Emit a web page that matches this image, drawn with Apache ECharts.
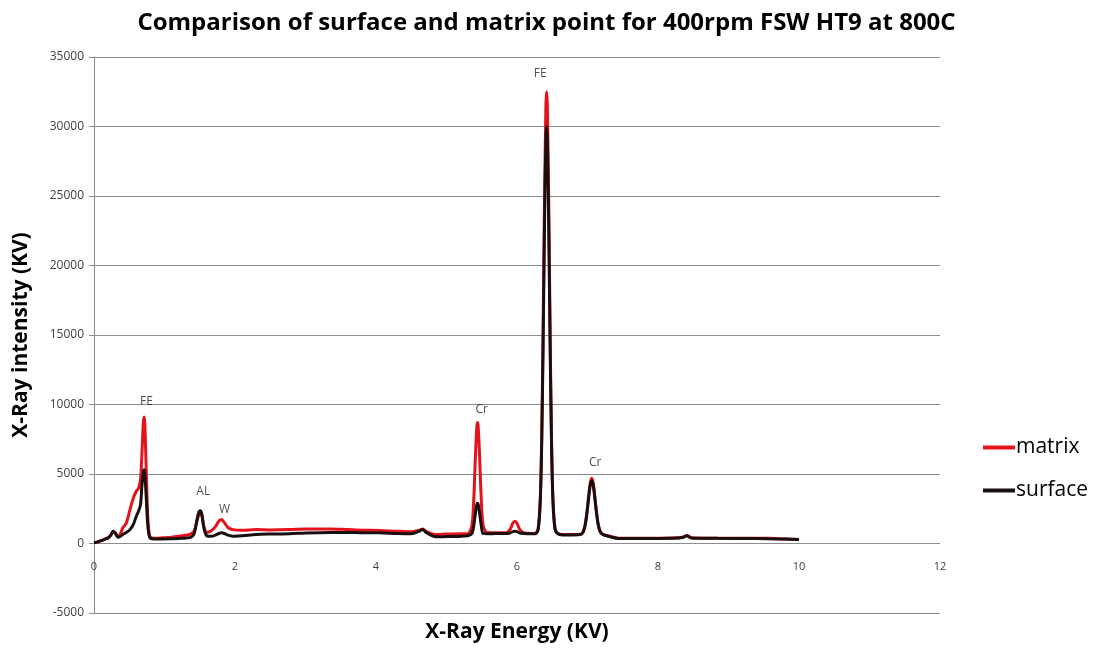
<!DOCTYPE html>
<html>
<head>
<meta charset="utf-8">
<script src="https://cdn.jsdelivr.net/npm/echarts@6/dist/echarts.min.js"></script>
<style>html,body{margin:0;padding:0;background:#fff}#chart{width:1093px;height:648px}</style>
</head>
<body>
<div id="chart"></div>
<script>
const energy = [0.00,0.05,0.10,0.15,0.20,0.24,0.27,0.30,0.34,0.37,0.41,0.46,0.51,0.56,0.60,0.63,0.66,0.68,0.70,0.71,0.72,0.74,0.76,0.78,0.80,0.85,0.95,1.10,1.25,1.36,1.42,1.46,1.49,1.51,1.53,1.56,1.60,1.66,1.72,1.77,1.81,1.85,1.90,1.97,2.10,2.30,2.50,2.77,3.00,3.34,3.60,3.80,4.05,4.30,4.50,4.62,4.66,4.72,4.85,5.00,5.22,5.30,5.36,5.39,5.41,5.43,5.44,5.45,5.47,5.49,5.52,5.58,5.70,5.84,5.90,5.94,5.97,6.00,6.04,6.10,6.20,6.26,6.30,6.33,6.35,6.37,6.39,6.41,6.42,6.43,6.45,6.47,6.49,6.51,6.54,6.58,6.64,6.80,6.90,6.94,6.97,7.00,7.02,7.04,7.06,7.08,7.10,7.12,7.15,7.18,7.22,7.30,7.44,7.80,8.20,8.35,8.41,8.47,8.85,9.20,9.56,9.80,10.00];
const matrix = [60,110,200,300,420,620,850,760,500,650,1130,1500,2440,3300,3760,3950,4600,6500,8700,9100,8700,5500,2200,800,450,380,400,450,550,650,900,1600,2100,2150,2000,1200,800,900,1200,1600,1720,1500,1150,1000,960,1000,980,1000,1040,1050,1000,960,935,880,850,950,1050,850,650,680,700,700,1280,3580,6240,8380,8700,8380,6240,3580,1280,780,770,770,1000,1450,1600,1450,1000,760,720,740,1050,3230,7570,15260,24700,31500,32500,31500,24700,15260,7570,3230,1050,720,650,650,670,880,1450,2620,3590,4390,4700,4390,3590,2620,1450,880,670,540,380,380,400,450,580,420,380,370,380,330,290];
const surface = [50,100,200,300,400,600,880,750,450,500,650,800,1000,1400,1960,2300,2800,4200,5100,5300,5100,3400,1500,600,380,330,330,340,380,420,700,1700,2300,2350,2100,1100,550,520,600,720,770,720,600,525,560,650,680,700,760,800,790,780,770,720,700,900,1000,760,480,500,530,560,720,1400,2180,2810,2900,2810,2180,1400,720,700,720,720,760,850,880,850,760,720,700,700,1000,3030,7030,14100,22800,29100,30000,29100,22800,14100,7030,3030,1000,700,620,620,640,840,1390,2520,3450,4220,4520,4220,3450,2520,1390,840,640,520,360,360,380,430,560,400,370,360,350,320,280];
const seriesNames = ['matrix','surface'];
const annotationText = ['FE','FE','AL','W','Cr','Cr'];
const annotationX = [6.33,0.745,1.55,1.85,5.50,7.11];
const annotationY = [33800,10220,3760,2440,9630,5840];
const titleText = 'Comparison of surface and matrix point for 400rpm FSW HT9 at 800C';
const xName = 'X-Ray Energy (KV)';
const yName = 'X-Ray intensity (KV)';

const zip = (xs, ys) => xs.map((x, i) => [x, ys[i]]);
const chart = echarts.init(document.getElementById('chart'), null, {renderer: 'canvas'});
const font = 'Open Sans';
chart.setOption({
  animation: false,
  backgroundColor: '#ffffff',
  title: {
    text: titleText, left: 'center', top: 6,
    textStyle: {fontFamily: font, fontWeight: 'bold', fontSize: 24, color: '#000'}
  },
  legend: {
    orient: 'vertical', left: 978, top: 432, itemGap: 22,
    icon: 'rect', itemWidth: 32, itemHeight: 4,
    textStyle: {fontFamily: font, fontSize: 21, color: '#000', padding: [0, 0, 0, -4]},
    data: seriesNames
  },
  grid: {left: 94, right: 153, top: 57, bottom: 35, containLabel: false, outerBoundsMode: 'none'},
  xAxis: {
    type: 'value', min: 0, max: 12, interval: 2,
    name: xName, nameLocation: 'middle', nameGap: 9,
    nameTextStyle: {fontFamily: font, fontWeight: 'bold', fontSize: 21, color: '#000'},
    axisLine: {show: false, onZero: false},
    axisTick: {show: false},
    axisLabel: {fontFamily: font, fontSize: 11, color: '#404040', margin: -52},
    splitLine: {show: false}
  },
  yAxis: {
    type: 'value', min: -5000, max: 35000, interval: 5000,
    name: yName, nameLocation: 'middle', nameGap: 62, nameRotate: 90,
    nameTextStyle: {fontFamily: font, fontWeight: 'bold', fontSize: 21, color: '#000'},
    axisLine: {show: true, lineStyle: {color: '#8c8c8c', width: 1}},
    axisTick: {show: true, length: 5, lineStyle: {color: '#8c8c8c'}},
    axisLabel: {fontFamily: font, fontSize: 12, color: '#404040', margin: 10, formatter: v => String(v)},
    splitLine: {show: true, lineStyle: {color: '#8c8c8c', width: 1}}
  },
  series: [
    {
      name: seriesNames[0], type: 'line', data: zip(energy, matrix),
      showSymbol: false, symbol: 'none', smooth: 0.3,
      lineStyle: {color: '#e3121b', width: 3}, itemStyle: {color: '#e3121b'}, z: 2
    },
    {
      name: seriesNames[1], type: 'line', data: zip(energy, surface),
      showSymbol: false, symbol: 'none', smooth: 0.3,
      lineStyle: {color: '#1a0f0f', width: 3}, itemStyle: {color: '#1a0f0f'}, z: 3
    },
    {
      name: 'labels', type: 'scatter', symbolSize: 0, silent: true, z: 4,
      data: annotationText.map((t, i) => ({value: [annotationX[i], annotationY[i]], name: t})),
      label: {show: true, position: 'inside', formatter: p => p.name,
        fontFamily: font, fontSize: 12, color: '#222'}
    }
  ]
});
</script>
</body>
</html>
